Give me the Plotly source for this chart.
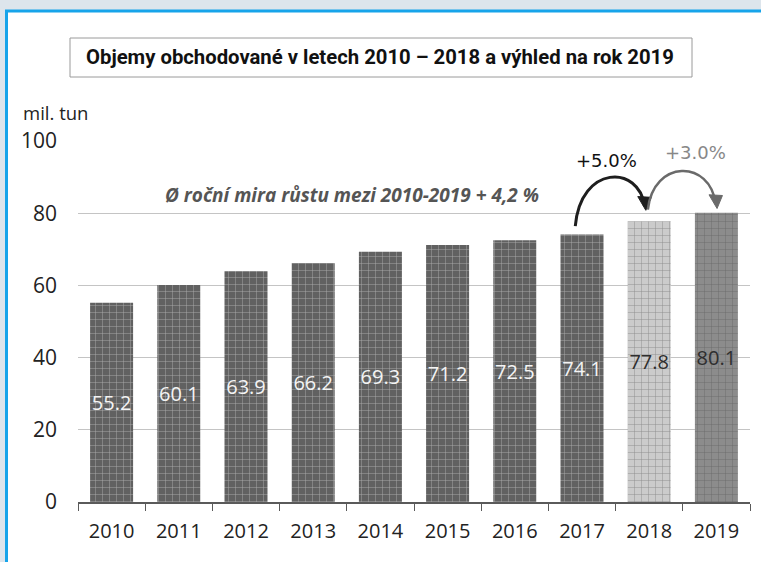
import plotly.graph_objects as go

years = ["2010", "2011", "2012", "2013", "2014", "2015", "2016", "2017", "2018", "2019"]
volumes = [55.2, 60.1, 63.9, 66.2, 69.3, 71.2, 72.5, 74.1, 77.8, 80.1]
growth_2018 = "+5.0%"
growth_2019 = "+3.0%"
avg_note = "Ø roční mira růstu mezi 2010-2019 + 4,2 %"
title_text = "Objemy obchodované v letech 2010 – 2018 a výhled na rok 2019"
unit_label = "mil. tun"

bar_colors = ["#616161"] * 8 + ["#cbcbcb", "#8c8c8c"]
grid_colors = ["#727272"] * 8 + ["#d8d8d8", "#999999"]
label_colors = ["#f4f4f4"] * 8 + ["#2e2e2e", "#2e2e2e"]

# pixel geometry helpers (plot area 78..750 x, 141..502 y)
L, R, T, B = 78, 750, 141, 502
W, H = 761, 562
def px(x):
    return (x - L) / (R - L)
def py(y):
    return (B - y) / (B - T)

fig = go.Figure()
fig.add_trace(go.Bar(
    x=years, y=volumes,
    marker=dict(color=bar_colors, line=dict(width=0),
                pattern=dict(shape="+", size=7, solidity=0.12, fgcolor=grid_colors,
                             fillmode="overlay")),
    text=[f"{v:.1f}" for v in volumes],
    textposition="inside", insidetextanchor="middle", textangle=0,
    constraintext="none",
    textfont=dict(family="Open Sans", size=20, color=label_colors),
    cliponaxis=False, hoverinfo="skip",
))

shapes = []
# outer frame
shapes.append(dict(type="rect", xref="paper", yref="paper", x0=px(-20), x1=px(W + 20),
                   y0=py(10), y1=py(-20), fillcolor="#dde5ec", line=dict(width=0), layer="below"))
shapes.append(dict(type="rect", xref="paper", yref="paper", x0=px(-20), x1=px(5),
                   y0=py(H + 20), y1=py(-20), fillcolor="#dde5ec", line=dict(width=0), layer="below"))
shapes.append(dict(type="line", xref="paper", yref="paper", x0=px(5), x1=px(W + 20),
                   y0=py(11), y1=py(11), line=dict(color="#17a4ea", width=3), layer="below"))
shapes.append(dict(type="line", xref="paper", yref="paper", x0=px(6.5), x1=px(6.5),
                   y0=py(H + 20), y1=py(10), line=dict(color="#17a4ea", width=3), layer="below"))
# title box
shapes.append(dict(type="rect", xref="paper", yref="paper", x0=px(70), x1=px(692),
                   y0=py(77), y1=py(38), fillcolor="white", line=dict(color="#9a9a9a", width=1)))

# curved arrows (x: category index, y: data units)
def arrow(x0, y0, x1, y1, peak, color, width):
    path = f"M {x0},{y0} C {x0 + 0.08},{peak} {x1 - 0.08},{peak} {x1},{y1}"
    shapes.append(dict(type="path", xref="x", yref="y", path=path,
                       line=dict(color=color, width=width)))
    head = (f"M {x1 + 0.02},{y1 - 1.2} L {x1 - 0.10},{y1 + 2.6} "
            f"L {x1 + 0.10},{y1 + 2.4} Z")
    shapes.append(dict(type="path", xref="x", yref="y", path=head,
                       fillcolor=color, line=dict(color=color, width=1)))

arrow(6.9, 76.4, 7.93, 82.0, 93.5, "#1e1e1e", 3)
arrow(7.98, 81.0, 8.99, 82.5, 95.0, "#6a6a6a", 2.5)

annotations = [
    dict(text=f"<b>{title_text}</b>", xref="paper", yref="paper", x=px(380), y=py(57),
         showarrow=False, font=dict(family="Roboto", size=20.3, color="#111111"),
         xanchor="center", yanchor="middle"),
    dict(text=unit_label, xref="paper", yref="paper", x=px(21), y=py(112),
         showarrow=False, font=dict(family="Open Sans", size=18.5, color="#222222"),
         xanchor="left", yanchor="middle"),
    dict(text=f"<b><i>{avg_note}</i></b>", xref="paper", yref="paper", x=px(352), y=py(195),
         showarrow=False, font=dict(family="Open Sans", size=19, color="#555555"),
         xanchor="center", yanchor="middle"),
    dict(text=growth_2018, xref="paper", yref="paper", x=px(606), y=py(160),
         showarrow=False, font=dict(family="DejaVu Sans", size=18, color="#111111"),
         xanchor="center", yanchor="middle"),
    dict(text=growth_2019, xref="paper", yref="paper", x=px(695), y=py(152),
         showarrow=False, font=dict(family="DejaVu Sans", size=18, color="#888888"),
         xanchor="center", yanchor="middle"),
]

fig.update_layout(
    width=W, height=H,
    margin=dict(l=L, r=W - R, t=T, b=H - B),
    paper_bgcolor="white", plot_bgcolor="white",
    bargap=0.36, showlegend=False,
    shapes=shapes, annotations=annotations,
    xaxis=dict(type="category", showgrid=False, showline=True, linecolor="#5a5a5a", linewidth=1.5,
               ticks="outside", tickson="boundaries", ticklen=7, tickcolor="#5a5a5a",
               ticklabelstandoff=10,
               tickfont=dict(family="Open Sans", size=20, color="#222222")),
    yaxis=dict(range=[0, 100], tickvals=[0, 20, 40, 60, 80, 100], showgrid=True,
               gridcolor="#c4c4c4", gridwidth=1.2, zeroline=False, showline=False,
               ticklabelstandoff=20,
               tickfont=dict(family="Open Sans", size=21, color="#222222")),
)

fig.write_html("out.html", config={"displayModeBar": False},
               post_script="document.body.style.margin='0';")
